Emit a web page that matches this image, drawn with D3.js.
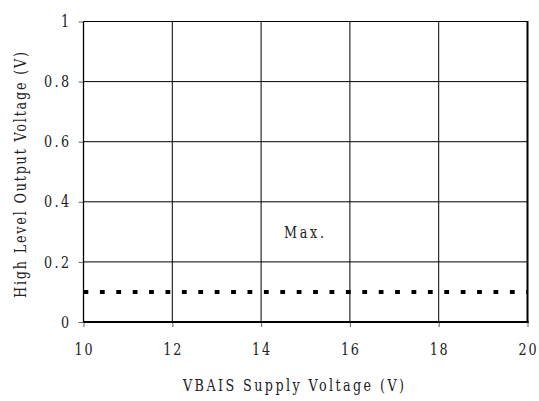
<!DOCTYPE html>
<html><head><meta charset="utf-8">
<script src="https://cdn.jsdelivr.net/npm/d3@7"></script>
<style>body{margin:0;background:#fff}svg{display:block}text{font-family:"DejaVu Serif","Liberation Serif",serif;fill:#222}</style>
</head><body><svg id="c" width="539" height="401"></svg>
<script>
const xTicks = [10, 12, 14, 16, 18, 20];
const yTicks = [0, 0.2, 0.4, 0.6, 0.8, 1];
const yTickLabels = ["0", "0.2", "0.4", "0.6", "0.8", "1"];
const maxX = [10, 20];
const maxY = [0.1, 0.1];
const xTitle = "VBAIS Supply Voltage (V)";
const yTitle = "High Level Output Voltage (V)";
const seriesLabel = "Max.";

const svg = d3.select("#c");
const L = 83.5, R = 527.5, T = 21.5, B = 322;
const x = d3.scaleLinear().domain([10, 20]).range([L, R]);
const y = d3.scaleLinear().domain([0, 1]).range([B, T]);
const SX = 0.75, FS = 17;

// grid
svg.append("g").selectAll("line").data(xTicks.slice(1, -1)).join("line")
  .attr("x1", d => x(d)).attr("x2", d => x(d)).attr("y1", T).attr("y2", B)
  .attr("stroke", "#000").attr("stroke-width", 1);
svg.append("g").selectAll("line").data(yTicks.slice(1, -1)).join("line")
  .attr("y1", d => y(d)).attr("y2", d => y(d)).attr("x1", L).attr("x2", R)
  .attr("stroke", "#000").attr("stroke-width", 1);

// axes
const gx = svg.append("g").attr("transform", `translate(0,${B})`)
  .call(d3.axisBottom(x).tickValues(xTicks).tickSize(5).tickFormat(""));
const gy = svg.append("g").attr("transform", `translate(${L},0)`)
  .call(d3.axisLeft(y).tickValues(yTicks).tickSize(5).tickFormat(""));
[gx, gy].forEach(g => { g.select(".domain").remove(); g.selectAll("line").attr("stroke", "#666"); });

// frame
svg.append("line").attr("x1", L).attr("x2", R).attr("y1", T).attr("y2", T).attr("stroke", "#000").attr("stroke-width", 1);
svg.append("line").attr("x1", L).attr("x2", L).attr("y1", T).attr("y2", B).attr("stroke", "#000").attr("stroke-width", 1.3);
svg.append("line").attr("x1", R).attr("x2", R).attr("y1", T - 0.5).attr("y2", B + 1).attr("stroke", "#000").attr("stroke-width", 2);
svg.append("line").attr("x1", L).attr("x2", R + 1).attr("y1", B).attr("y2", B).attr("stroke", "#000").attr("stroke-width", 2);

function txt(s, px, py, anchor, rot, len) {
  const g = svg.append("g").attr("transform", `translate(${px},${py})` + (rot ? ` rotate(${rot})` : "") + ` scale(${SX},1)`);
  const t = g.append("text").attr("text-anchor", anchor).attr("dominant-baseline", "central")
    .attr("font-size", FS).text(s);
  if (len) t.attr("textLength", len / SX).attr("lengthAdjust", "spacing");
  return t;
}
xTicks.forEach(d => txt(String(d), x(d), 349.5, "middle", 0, 18));
yTicks.forEach((d, i) => txt(yTickLabels[i], 69, y(d), "end", 0, yTickLabels[i].length > 1 ? 25 : 0));
txt(xTitle, 293.5, 385, "middle", 0, 221);
txt(yTitle, 20, 175, "middle", -90, 246);
txt(seriesLabel, 304, 232, "middle", 0, 40);

// dotted Max line
svg.append("path").datum(maxX.map((v, i) => [v, maxY[i]]))
  .attr("d", d3.line().x(d => x(d[0])).y(d => y(d[1])))
  .attr("stroke", "#000").attr("stroke-width", 4).attr("fill", "none")
  .attr("stroke-dasharray", "4.8 11.6");
</script></body></html>
